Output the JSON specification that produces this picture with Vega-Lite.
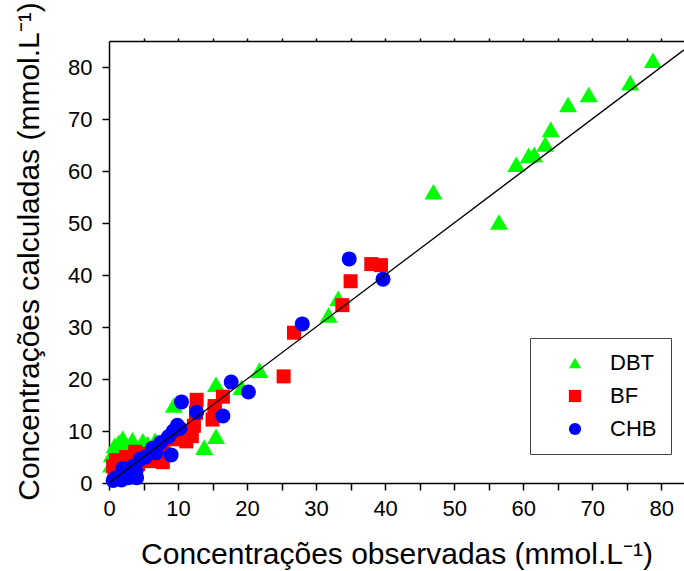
{
  "$schema": "https://vega.github.io/schema/vega-lite/v6.json",
  "width": 575,
  "height": 442,
  "autosize": {"type": "none"},
  "padding": {"left": 109, "top": 41, "right": 0, "bottom": 88},
  "background": "white",
  "config": {
    "view": {"stroke": null},
    "axis": {
      "domainColor": "black",
      "tickColor": "black",
      "labelColor": "black",
      "titleColor": "black",
      "labelFont": "Liberation Sans",
      "titleFont": "Liberation Sans",
      "titleFontWeight": "normal",
      "labelFontSize": 22,
      "titleFontSize": 30,
      "domainWidth": 1.5,
      "tickWidth": 1.5,
      "grid": false
    },
    "legend": {
      "labelFont": "Liberation Sans",
      "labelFontSize": 22,
      "labelColor": "black",
      "symbolSize": 150
    }
  },
  "datasets": {
    "pts": [
      {"obs": 78.8, "calc": 81.3, "grupo": "DBT"},
      {"obs": 75.5, "calc": 77.0, "grupo": "DBT"},
      {"obs": 69.5, "calc": 74.7, "grupo": "DBT"},
      {"obs": 66.5, "calc": 72.8, "grupo": "DBT"},
      {"obs": 64.0, "calc": 68.0, "grupo": "DBT"},
      {"obs": 63.2, "calc": 65.2, "grupo": "DBT"},
      {"obs": 61.6, "calc": 63.2, "grupo": "DBT"},
      {"obs": 60.8, "calc": 63.0, "grupo": "DBT"},
      {"obs": 59.0, "calc": 61.3, "grupo": "DBT"},
      {"obs": 47.0, "calc": 56.0, "grupo": "DBT"},
      {"obs": 56.5, "calc": 50.2, "grupo": "DBT"},
      {"obs": 33.2, "calc": 35.5, "grupo": "DBT"},
      {"obs": 31.8, "calc": 32.3, "grupo": "DBT"},
      {"obs": 21.8, "calc": 21.7, "grupo": "DBT"},
      {"obs": 19.2, "calc": 18.4, "grupo": "DBT"},
      {"obs": 15.5, "calc": 19.0, "grupo": "DBT"},
      {"obs": 9.4, "calc": 15.0, "grupo": "DBT"},
      {"obs": 15.5, "calc": 9.0, "grupo": "DBT"},
      {"obs": 13.8, "calc": 6.9, "grupo": "DBT"},
      {"obs": 0.4, "calc": 5.5, "grupo": "DBT"},
      {"obs": 0.8, "calc": 7.2, "grupo": "DBT"},
      {"obs": 1.4, "calc": 7.8, "grupo": "DBT"},
      {"obs": 2.0, "calc": 8.6, "grupo": "DBT"},
      {"obs": 3.4, "calc": 8.3, "grupo": "DBT"},
      {"obs": 4.9, "calc": 8.1, "grupo": "DBT"},
      {"obs": 5.6, "calc": 7.6, "grupo": "DBT"},
      {"obs": 6.7, "calc": 8.2, "grupo": "DBT"},
      {"obs": 8.0, "calc": 7.6, "grupo": "DBT"},
      {"obs": 1.5, "calc": 6.0, "grupo": "DBT"},
      {"obs": 2.6, "calc": 5.2, "grupo": "DBT"},
      {"obs": 3.0, "calc": 6.6, "grupo": "DBT"},
      {"obs": 0.3, "calc": 3.5, "grupo": "DBT"},
      {"obs": 38.0, "calc": 42.1, "grupo": "BF"},
      {"obs": 39.4, "calc": 41.9, "grupo": "BF"},
      {"obs": 35.0, "calc": 38.8, "grupo": "BF"},
      {"obs": 33.8, "calc": 34.2, "grupo": "BF"},
      {"obs": 26.8, "calc": 28.9, "grupo": "BF"},
      {"obs": 25.3, "calc": 20.5, "grupo": "BF"},
      {"obs": 16.5, "calc": 16.6, "grupo": "BF"},
      {"obs": 15.3, "calc": 14.8, "grupo": "BF"},
      {"obs": 12.7, "calc": 16.0, "grupo": "BF"},
      {"obs": 12.6, "calc": 13.5, "grupo": "BF"},
      {"obs": 12.3, "calc": 11.0, "grupo": "BF"},
      {"obs": 12.0, "calc": 9.0, "grupo": "BF"},
      {"obs": 15.3, "calc": 14.0, "grupo": "BF"},
      {"obs": 15.0, "calc": 12.2, "grupo": "BF"},
      {"obs": 11.2, "calc": 8.0, "grupo": "BF"},
      {"obs": 9.6, "calc": 8.4, "grupo": "BF"},
      {"obs": 7.8, "calc": 6.2, "grupo": "BF"},
      {"obs": 7.8, "calc": 4.0, "grupo": "BF"},
      {"obs": 6.3, "calc": 5.7, "grupo": "BF"},
      {"obs": 5.2, "calc": 5.6, "grupo": "BF"},
      {"obs": 3.8, "calc": 6.0, "grupo": "BF"},
      {"obs": 2.5, "calc": 5.0, "grupo": "BF"},
      {"obs": 1.0, "calc": 4.4, "grupo": "BF"},
      {"obs": 0.6, "calc": 3.2, "grupo": "BF"},
      {"obs": 0.8, "calc": 1.8, "grupo": "BF"},
      {"obs": 4.2, "calc": 3.6, "grupo": "BF"},
      {"obs": 6.0, "calc": 4.2, "grupo": "BF"},
      {"obs": 34.8, "calc": 43.1, "grupo": "CHB"},
      {"obs": 39.7, "calc": 39.2, "grupo": "CHB"},
      {"obs": 28.0, "calc": 30.6, "grupo": "CHB"},
      {"obs": 20.2, "calc": 17.5, "grupo": "CHB"},
      {"obs": 17.7, "calc": 19.4, "grupo": "CHB"},
      {"obs": 10.5, "calc": 15.6, "grupo": "CHB"},
      {"obs": 12.7, "calc": 13.6, "grupo": "CHB"},
      {"obs": 16.5, "calc": 12.9, "grupo": "CHB"},
      {"obs": 10.3, "calc": 10.5, "grupo": "CHB"},
      {"obs": 9.3, "calc": 10.0, "grupo": "CHB"},
      {"obs": 9.9, "calc": 11.1, "grupo": "CHB"},
      {"obs": 9.0, "calc": 5.4, "grupo": "CHB"},
      {"obs": 8.6, "calc": 8.9, "grupo": "CHB"},
      {"obs": 7.5, "calc": 7.8, "grupo": "CHB"},
      {"obs": 6.3, "calc": 6.7, "grupo": "CHB"},
      {"obs": 6.8, "calc": 5.8, "grupo": "CHB"},
      {"obs": 5.3, "calc": 5.0, "grupo": "CHB"},
      {"obs": 4.5, "calc": 4.6, "grupo": "CHB"},
      {"obs": 3.5, "calc": 3.2, "grupo": "CHB"},
      {"obs": 3.9, "calc": 2.2, "grupo": "CHB"},
      {"obs": 3.2, "calc": 1.2, "grupo": "CHB"},
      {"obs": 2.0, "calc": 2.8, "grupo": "CHB"},
      {"obs": 2.8, "calc": 1.0, "grupo": "CHB"},
      {"obs": 4.0, "calc": 1.0, "grupo": "CHB"},
      {"obs": 1.0, "calc": 1.0, "grupo": "CHB"},
      {"obs": 0.6, "calc": 0.5, "grupo": "CHB"},
      {"obs": 1.8, "calc": 0.6, "grupo": "CHB"}
    ],
    "linha": [
      {"obs": 0, "calc": 0},
      {"obs": 83.3, "calc": 83.3}
    ]
  },
  "layer": [
    {
      "data": {"name": "pts"},
      "mark": {"type": "point", "filled": true, "opacity": 1, "strokeWidth": 0},
      "encoding": {
        "x": {
          "field": "obs", "type": "quantitative",
          "scale": {"domain": [0, 83.3], "nice": false, "zero": false},
          "axis": {
            "orient": "bottom",
            "values": [0, 5, 10, 15, 20, 25, 30, 35, 40, 45, 50, 55, 60, 65, 70, 75, 80],
            "labelExpr": "datum.value % 10 === 0 ? datum.label : ''",
            "tickSize": 7,
            "labelPadding": 8,
            "labelFlush": false,
            "labelOverlap": false,
            "title": "Concentrações observadas (mmol.L⁻¹)",
            "titleY": 80,
            "titleBaseline": "alphabetic",
            "encode": {
              "ticks": {"update": {"y2": {"signal": "datum.value % 10 === 0 ? 7 : 4"}}}
            }
          }
        },
        "y": {
          "field": "calc", "type": "quantitative",
          "scale": {"domain": [0, 85], "nice": false, "zero": false},
          "axis": {
            "orient": "left",
            "values": [0, 5, 10, 15, 20, 25, 30, 35, 40, 45, 50, 55, 60, 65, 70, 75, 80],
            "labelExpr": "datum.value % 10 === 0 ? datum.label : ''",
            "tickSize": 7,
            "labelPadding": 10,
            "labelFlush": false,
            "labelOverlap": false,
            "title": "Concentrações calculadas (mmol.L⁻¹)",
            "titleX": -71,
            "titleY": 210,
            "titleAlign": "center",
            "titleBaseline": "alphabetic",
            "encode": {
              "ticks": {"update": {"x2": {"signal": "datum.value % 10 === 0 ? -7 : -4"}}}
            }
          }
        },
        "color": {
          "field": "grupo", "type": "nominal",
          "scale": {"domain": ["DBT", "BF", "CHB"], "range": ["#00ff00", "#ff0000", "#0000ff"]},
          "legend": {
            "title": null,
            "orient": "none",
            "legendX": 421,
            "legendY": 297,
            "padding": 14,
            "rowPadding": 11,
            "symbolSize": 150,
            "symbolOffset": 20,
            "labelOffset": 24,
            "strokeColor": "#444444",
            "fillColor": "white"
          }
        },
        "shape": {
          "field": "grupo", "type": "nominal",
          "scale": {"domain": ["DBT", "BF", "CHB"], "range": ["triangle-up", "square", "circle"]}
        },
        "size": {
          "condition": [
            {"test": "datum.grupo === 'DBT'", "value": 324},
            {"test": "datum.grupo === 'BF'", "value": 196}
          ],
          "value": 225
        }
      }
    },
    {
      "data": {"name": "linha"},
      "mark": {"type": "line", "color": "black", "strokeWidth": 1.3, "clip": true},
      "encoding": {
        "x": {
          "field": "obs", "type": "quantitative",
          "axis": {
            "orient": "top",
            "values": [5, 10, 15, 20, 25, 30, 35, 40, 45, 50, 55, 60, 65, 70, 75, 80],
            "labels": false,
            "tickSize": 3,
            "title": null,
            "encode": {
              "ticks": {"update": {"y2": {"value": 3}}}
            }
          }
        },
        "y": {"field": "calc", "type": "quantitative"}
      }
    }
  ],
  "resolve": {"axis": {"x": "independent"}}
}
